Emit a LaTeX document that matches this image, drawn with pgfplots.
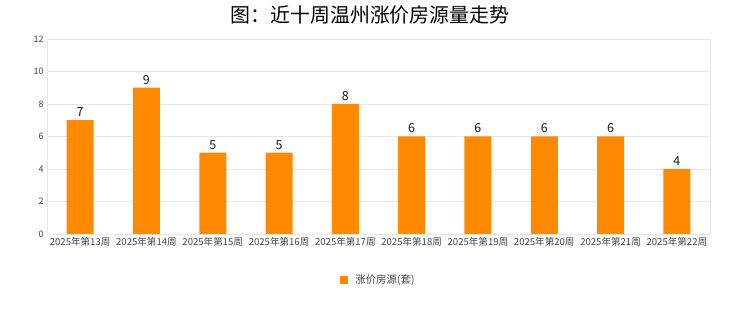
\documentclass[border=0pt]{standalone}
\usepackage{pgfplots}
\pgfplotsset{compat=1.18}
\usepackage{fontspec}
\setmainfont{Noto Sans CJK SC}
\definecolor{barorange}{HTML}{FF8A00}
\definecolor{gridgray}{HTML}{E6E6E6}
\definecolor{ticktext}{HTML}{444444}
\begin{document}
\begin{tikzpicture}
\useasboundingbox (0,0) rectangle (740bp,312bp);
\node[font=\fontsize{20}{22}\selectfont, text=black] at (370bp,297bp) {图：近十周温州涨价房源量走势};
\begin{axis}[
  at={(47bp,78bp)}, anchor=south west,
  scale only axis, width=663bp, height=195bp,
  xmin=-0.5, xmax=9.5, ymin=0, ymax=12,
  ytick={0,2,...,12},
  xtick=data,
  xticklabels={2025年第13周,2025年第14周,2025年第15周,2025年第16周,2025年第17周,2025年第18周,2025年第19周,2025年第20周,2025年第21周,2025年第22周},
  ybar, bar width=27bp,
  axis line style={gridgray},
  major tick length=0pt,
  ymajorgrids, grid style={gridgray, line width=0.8pt},
  tick label style={font=\fontsize{9}{10}\selectfont, text=ticktext},
  xticklabel style={font=\fontsize{9.6}{10}\selectfont, text=ticktext},
  /pgf/number format/assume math mode=true,
  nodes near coords,
  nodes near coords style={font=\fontsize{12.5}{13}\selectfont, text=black!90},
  legend style={at={(0.5,-0.236)}, anchor=center, draw=none, font=\fontsize{10.5}{11}\selectfont, text=ticktext},
  legend image code/.code={\fill[barorange] (0bp,-4bp) rectangle (8bp,4bp); \path (0bp,0bp) -- (13bp,0bp);},
]
\addplot[fill=barorange, draw=none] coordinates {(0,7) (1,9) (2,5) (3,5) (4,8) (5,6) (6,6) (7,6) (8,6) (9,4)};
\addlegendentry{涨价房源(套)}
\end{axis}
\end{tikzpicture}
\end{document}
